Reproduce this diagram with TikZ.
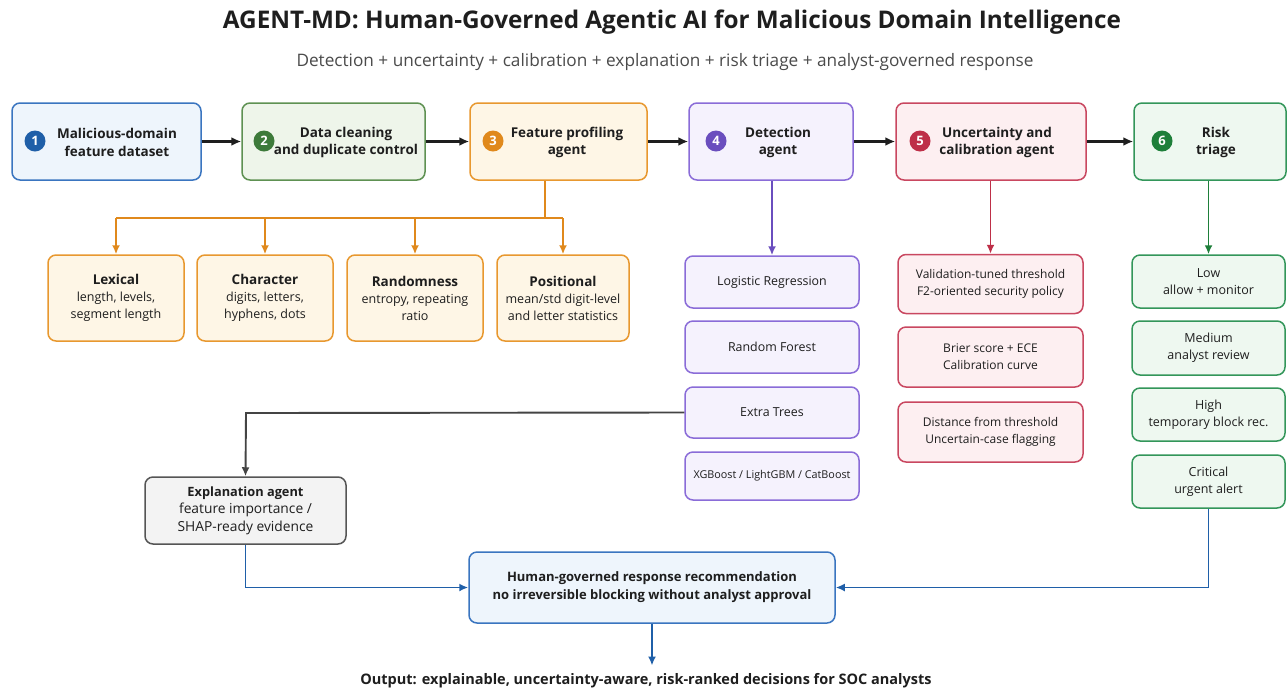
\documentclass[tikz,border=0pt]{standalone}
\usepackage{fontspec}
\setmainfont{Open Sans}
\usetikzlibrary{arrows.meta}

% palette
\definecolor{bluebd}{HTML}{3A75C0}\definecolor{bluefl}{HTML}{EEF5FC}\definecolor{bluebg}{HTML}{1F5FA8}
\definecolor{grnAbd}{HTML}{5E9152}\definecolor{grnAfl}{HTML}{EEF5EA}\definecolor{grnAbg}{HTML}{3D7A3A}
\definecolor{orgbd}{HTML}{E8982F}\definecolor{orgfl}{HTML}{FEF6E6}\definecolor{orgbg}{HTML}{E0891C}
\definecolor{purbd}{HTML}{8A6CD8}\definecolor{purfl}{HTML}{F5F2FD}\definecolor{purbg}{HTML}{6A4EBE}
\definecolor{redbd}{HTML}{C94760}\definecolor{redfl}{HTML}{FDEFF1}\definecolor{redbg}{HTML}{BE2F48}
\definecolor{grnBbd}{HTML}{33965A}\definecolor{grnBfl}{HTML}{EEF8F0}\definecolor{grnBbg}{HTML}{1E7F3A}
\definecolor{graybd}{HTML}{555555}\definecolor{grayfl}{HTML}{F3F3F3}
\definecolor{inkc}{HTML}{1E1E1E}

\newcommand{\fs}[2]{\fontsize{#1}{#2}\selectfont}

\tikzset{
  box/.style n args={2}{draw=#1, fill=#2, rounded corners=8pt, line width=1.5pt,
    inner sep=0pt, align=center, text=inkc},
  badge/.style={circle, fill=#1, text=white, minimum size=21pt, inner sep=0pt,
    font=\fs{13}{15}\bfseries},
  head/.style={align=center, text=inkc, font=\fs{13.5}{17.5}\bfseries, inner sep=0pt},
  flow/.style={draw=inkc, line width=2.1pt, -{Latex[length=10pt,width=9pt]}},
  link/.style={draw=#1, line width=1.9pt, -{Latex[length=9pt,width=8pt]}},
  joint/.style={draw=#1, line width=1.9pt},
  sub/.style={font=\fs{12.5}{17}},
}

\begin{document}
\begin{tikzpicture}[x=1pt,y=-1pt]
\useasboundingbox (0,0) rectangle (1287,689);
\fill[white] (0,0) rectangle (1287,689);

% title and subtitle
\node[text=inkc, font=\fs{24.3}{28}\bfseries, inner sep=0pt] (title) at (672,22) {AGENT-MD: Human-Governed Agentic AI for Malicious Domain Intelligence};
\node[text=inkc!80, font=\fs{17.2}{20}, inner sep=0pt] (subtitle) at (665,62) {Detection + uncertainty + calibration + explanation + risk triage + analyst-governed response};

% pipeline stages
\node[box={bluebd}{bluefl}, minimum width=189pt, minimum height=77pt] (n1) at (106.5,141.5) {};
\node[box={grnAbd}{grnAfl}, minimum width=183pt, minimum height=77pt] (n2) at (333.5,141.5) {};
\node[box={orgbd}{orgfl}, minimum width=177pt, minimum height=77pt] (n3) at (558.5,141.5) {};
\node[box={purbd}{purfl}, minimum width=164pt, minimum height=77pt] (n4) at (771,141.5) {};
\node[box={redbd}{redfl}, minimum width=190pt, minimum height=77pt] (n5) at (991,141.5) {};
\node[box={grnBbd}{grnBfl}, minimum width=152pt, minimum height=77pt] (n6) at (1210,141.5) {};

\node[badge=bluebg] (b1) at (35,141) {1};
\node[badge=grnAbg] (b2) at (264,141) {2};
\node[badge=orgbg] (b3) at (493,141) {3};
\node[badge=purbg] (b4) at (716,141) {4};
\node[badge=redbg] (b5) at (920,141) {5};
\node[badge=grnBbg] (b6) at (1162,141) {6};

\node[head] (t1) at (117,142.5) {Malicious-domain\\feature dataset};
\node[head] (t2) at (346,142.5) {Data cleaning\\and duplicate control};
\node[head] (t3) at (567,142.5) {Feature profiling\\agent};
\node[head] (t4) at (778,142.5) {Detection\\agent};
\node[head] (t5) at (997,142.5) {Uncertainty and\\calibration agent};
\node[head] (t6) at (1216,142.5) {Risk\\triage};

\draw[flow] (n1) -- (n2);
\draw[flow] (n2) -- (n3);
\draw[flow] (n3) -- (n4);
\draw[flow] (n4) -- (n5);
\draw[flow] (n5) -- (n6);

% feature groups
\tikzset{fbox/.style={box={orgbd}{orgfl}, minimum width=136pt, minimum height=86pt, sub}}
\node[fbox] (f1) at (116,298) {\textbf{\fs{13.5}{19}Lexical}\\length, levels,\\segment length};
\node[fbox] (f2) at (265,298) {\textbf{\fs{13.5}{19}Character}\\digits, letters,\\hyphens, dots};
\node[fbox] (f3) at (415,298) {\textbf{\fs{13.5}{19}Randomness}\\entropy, repeating\\ratio};
\node[fbox, minimum width=132pt] (f4) at (563,298) {\textbf{\fs{13.5}{19}Positional}\\mean/std digit-level\\and letter statistics};

\coordinate (fsplit) at (545,218);
\draw[joint=orgbg] (n3.south -| fsplit) -- (fsplit);
\draw[joint=orgbg] (f1.north |- fsplit) -- (f4.north |- fsplit);
\draw[link=orgbg] (f1.north |- fsplit) -- (f1.north);
\draw[link=orgbg] (f2.north |- fsplit) -- (f2.north);
\draw[link=orgbg] (f3.north |- fsplit) -- (f3.north);
\draw[link=orgbg] (f4.north |- fsplit) -- (f4.north);

% detection models
\tikzset{dbox/.style={box={purbd}{purfl}, minimum width=174pt, minimum height=52pt, font=\fs{12.4}{16}}}
\node[dbox] (d1) at (772,282) {Logistic Regression};
\node[dbox] (d2) at (772,347) {Random Forest};
\node[dbox, minimum height=51pt] (d3) at (772,412.5) {Extra Trees};
\node[dbox, minimum height=48pt, font=\fs{10.8}{14}] (d4) at (772,476) {XGBoost / LightGBM / CatBoost};
\draw[link=purbg] (n4.south -| d1.north) -- (d1.north);

% uncertainty and calibration
\tikzset{ubox/.style={box={redbd}{redfl}, minimum width=185pt, minimum height=59pt, font=\fs{12}{17}}}
\node[ubox] (u1) at (990.5,284) {Validation-tuned threshold\\F2-oriented security policy};
\node[ubox, minimum height=60pt] (u2) at (990.5,357) {Brier score + ECE\\Calibration curve};
\node[ubox, minimum height=60pt] (u3) at (990.5,432) {Distance from threshold\\Uncertain-case flagging};
\draw[link=redbg] (n5.south -| u1.north) -- (u1.north);

% risk levels
\tikzset{rbox/.style={box={grnBbd}{grnBfl}, minimum width=153pt, minimum height=53pt, font=\fs{12.5}{17}}}
\node[rbox] (r1) at (1208.5,281.5) {Low\\allow + monitor};
\node[rbox, minimum height=54pt] (r2) at (1208.5,348) {Medium\\analyst review};
\node[rbox] (r3) at (1208.5,414.5) {High\\temporary block rec.};
\node[rbox] (r4) at (1208.5,481.5) {Critical\\urgent alert};
\draw[link=grnBbg] (n6.south -| r1.north) -- (r1.north);

% explanation agent
\node[box={graybd}{grayfl}, minimum width=201pt, minimum height=67pt, font=\fs{13.8}{17.5}] (ex) at (245.5,510.5)
  {\textbf{\fs{12.8}{17.5}Explanation agent}\\feature importance /\\SHAP-ready evidence};
\coordinate (exturn) at (246,413);
\draw[link=graybd!80!black] (d3.west) -- (exturn) -- (ex.north);

% human-governed response
\node[box={bluebd}{bluefl}, minimum width=366pt, minimum height=71pt, font=\fs{13}{18}\bfseries] (hg) at (652,587.5)
  {Human-governed response recommendation\\no irreversible blocking without analyst approval};
\draw[link=bluebg] (ex.south) |- (hg.west);
\draw[link=bluebg] (r4.south) |- (hg.east);

\node[text=inkc, font=\fs{14.5}{18}\bfseries, inner sep=0pt] (out) at (646,681) {Output: explainable, uncertainty-aware, risk-ranked decisions for SOC analysts};
\draw[link=bluebg] (hg.south) -- ([yshift=8pt]out.north -| hg.south);
\end{tikzpicture}
\end{document}
